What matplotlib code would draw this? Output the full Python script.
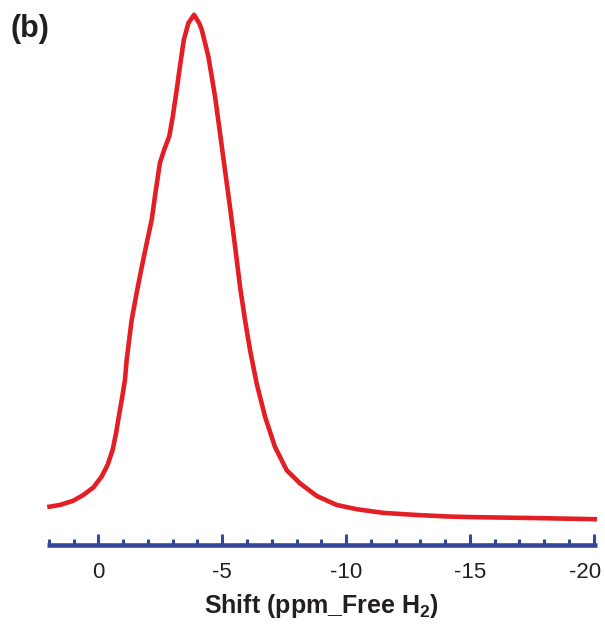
import matplotlib
matplotlib.use("Agg")
import matplotlib.pyplot as plt
import matplotlib.transforms as mtransforms
from matplotlib.ticker import MultipleLocator, FixedLocator, FixedFormatter

plt.rcParams['font.family'] = ['Liberation Sans', 'DejaVu Sans']
plt.rcParams['mathtext.fontset'] = 'custom'
plt.rcParams['mathtext.rm'] = 'Liberation Sans:bold'
plt.rcParams['mathtext.bf'] = 'Liberation Sans:bold'

# Spectrum (shift in ppm, intensity with peak = 100)
shift = [2.07, 1.56, 1.02, 0.61, 0.21, -0.13, -0.37, -0.57, -0.71, -0.82,
         -0.94, -1.07, -1.14, -1.34, -1.54, -1.75, -1.95, -2.15, -2.32, -2.48,
         -2.65, -2.86, -3.00, -3.16, -3.29, -3.45, -3.63, -3.86, -4.07, -4.17,
         -4.44, -4.71, -4.91, -5.11, -5.31, -5.52, -5.72, -5.92, -6.12, -6.39,
         -6.73, -7.13, -7.60, -8.14, -8.82, -9.62, -10.43, -11.51, -12.86, -14.20,
         -15.13, -17.84, -20.14]
intensity = [6.8, 7.2, 8.0, 9.1, 10.5, 12.6, 14.8, 17.6, 20.8, 23.9,
             27.1, 30.9, 34.7, 42.2, 47.3, 52.3, 56.8, 61.2, 66.9, 71.9,
             74.4, 77.0, 80.7, 85.8, 90.2, 95.3, 98.4, 100.0, 98.4, 97.2,
             92.1, 84.5, 77.6, 70.6, 63.7, 56.1, 48.5, 42.2, 36.6, 30.2,
             23.9, 18.2, 13.8, 11.3, 8.9, 7.2, 6.4, 5.7, 5.3, 5.0,
             4.9, 4.7, 4.5]

major_ticks = [0, -5, -10, -15, -20]
tick_labels = ['0', '-5', '-10', '-15', '-20']

axis_blue = '#34479a'
red = '#e31e24'
dark = '#231f20'

fig = plt.figure(figsize=(6.05, 6.25), dpi=100)
ax = fig.add_axes([47 / 605, 80 / 625, 550 / 605, 545 / 625])

ax.plot(shift, intensity, color=red, lw=3.3, solid_joinstyle='round',
        solid_capstyle='butt')

ax.set_xlim(2.08, -20.14)
ax.set_ylim(-0.38, 102.8)

for s in ['top', 'left', 'right']:
    ax.spines[s].set_visible(False)
ax.spines['bottom'].set_color(axis_blue)
ax.spines['bottom'].set_linewidth(3.3)
ax.spines['bottom'].set_capstyle('butt')

ax.set_yticks([])
ax.xaxis.set_major_locator(FixedLocator(major_ticks))
ax.xaxis.set_major_formatter(FixedFormatter(tick_labels))
ax.xaxis.set_minor_locator(MultipleLocator(1))
ax.tick_params(axis='x', which='major', direction='in', length=8, width=2.2,
               color=axis_blue, pad=12, labelsize=16, labelcolor=dark)
ax.tick_params(axis='x', which='minor', direction='in', length=4.5, width=2.2,
               color=axis_blue)

# the last label sits a little left of its tick so it stays inside the figure
last = ax.get_xticklabels()[-1]
last.set_transform(last.get_transform() +
                   mtransforms.ScaledTranslation(-8 / 100, 0, fig.dpi_scale_trans))

ax.set_xlabel(r'Shift (ppm_Free H$_\mathbf{2}$)', fontsize=18,
              fontweight='bold', color=dark, labelpad=7)

fig.text(10 / 605, 1 - 29 / 625, '(b)', fontsize=22, fontweight='bold',
         color=dark, va='center', ha='left')

fig.savefig('out.png', dpi=100)
